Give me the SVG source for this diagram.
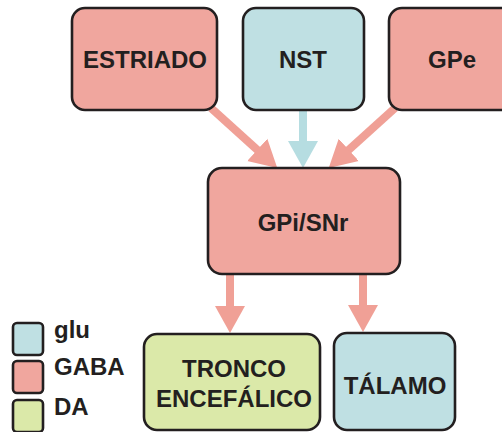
<svg xmlns="http://www.w3.org/2000/svg" width="502" height="432" viewBox="0 0 502 432">
  <defs>
    <style>
      .box { stroke: #231f20; stroke-width: 2.6; }
      .gaba { fill: #f0a69e; }
      .glu { fill: #bfe0e3; }
      .da { fill: #dbe9a9; }
      .lbl { font-family: "Liberation Sans", Arial, sans-serif; font-weight: bold; font-size: 24px; fill: #231f20; }
      .mid { text-anchor: middle; }
      .wire { fill: none; stroke-width: 8; }
      .wire-gaba { stroke: #f0a096; }
      .wire-glu { stroke: #b6dde1; }
    </style>
    <marker id="head-gaba" markerUnits="userSpaceOnUse" markerWidth="30" markerHeight="32" viewBox="0 -16 30 32" refX="1" refY="0" orient="auto">
      <path d="M0,-15 L27,0 L0,15 Z" fill="#f0a096"/>
    </marker>
    <marker id="head-glu" markerUnits="userSpaceOnUse" markerWidth="30" markerHeight="32" viewBox="0 -16 30 32" refX="1" refY="0" orient="auto">
      <path d="M0,-15 L27,0 L0,15 Z" fill="#b6dde1"/>
    </marker>
  </defs>

  <rect width="502" height="432" fill="#ffffff"/>

  <!-- connectors -->
  <g id="connectors">
    <path class="wire wire-gaba" d="M211,108 L258,150.5" marker-end="url(#head-gaba)"/>
    <path class="wire wire-glu" d="M303,108 L303,142" marker-end="url(#head-glu)"/>
    <path class="wire wire-gaba" d="M395,108 L348,150.5" marker-end="url(#head-gaba)"/>
    <path class="wire wire-gaba" d="M230,272 L230,307" marker-end="url(#head-gaba)"/>
    <path class="wire wire-gaba" d="M363,272 L363,306" marker-end="url(#head-gaba)"/>
  </g>

  <!-- input nuclei -->
  <g id="estriado">
    <rect class="box gaba" x="72" y="8" width="145" height="102" rx="13"/>
    <text class="lbl mid" x="145" y="68">ESTRIADO</text>
  </g>
  <g id="nst">
    <rect class="box glu" x="243" y="8" width="121" height="102" rx="13"/>
    <text class="lbl mid" x="303" y="68">NST</text>
  </g>
  <g id="gpe">
    <rect class="box gaba" x="389" y="8" width="126" height="102" rx="13"/>
    <text class="lbl mid" x="452" y="68">GPe</text>
  </g>

  <!-- output nucleus -->
  <g id="gpi-snr">
    <rect class="box gaba" x="208" y="168" width="192" height="106" rx="14"/>
    <text class="lbl mid" x="303" y="231">GPi/SNr</text>
  </g>

  <!-- targets -->
  <g id="tronco">
    <rect class="box da" x="144" y="334" width="176" height="96" rx="13"/>
    <text class="lbl mid" x="234" y="377">TRONCO</text>
    <text class="lbl mid" x="234" y="407">ENCEFÁLICO</text>
  </g>
  <g id="talamo">
    <rect class="box glu" x="334" y="333" width="121" height="97" rx="13"/>
    <text class="lbl mid" x="395" y="394">TÁLAMO</text>
  </g>

  <!-- legend -->
  <g id="legend">
    <rect class="box glu" x="13" y="323" width="30" height="32" rx="4" stroke-width="1.6"/>
    <text class="lbl" x="54" y="338">glu</text>
    <rect class="box gaba" x="13" y="361" width="30" height="32" rx="4" stroke-width="1.6"/>
    <text class="lbl" x="54" y="375">GABA</text>
    <rect class="box da" x="13" y="400" width="30" height="32" rx="4" stroke-width="1.6"/>
    <text class="lbl" x="54" y="415">DA</text>
  </g>
</svg>
